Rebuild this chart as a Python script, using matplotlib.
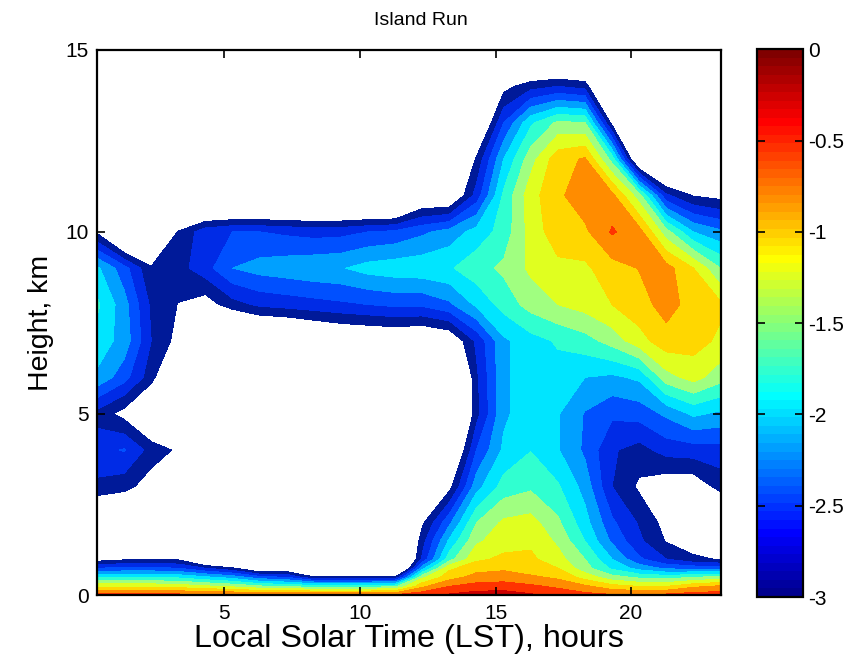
import numpy as np
import matplotlib
matplotlib.use("Agg")
import matplotlib.pyplot as plt
from matplotlib.cm import ScalarMappable
from matplotlib.colors import ListedColormap, Normalize

plt.rcParams["font.family"] = ["Liberation Sans", "DejaVu Sans"]
plt.rcParams["axes.unicode_minus"] = False

# grid: local solar time (h) and height (km)
hours = [0.3, 1.3, 2.3, 3.3, 4.3, 5.3, 6.3, 7.3, 8.3, 9.3, 10.3, 11.3,
         12.3, 13.3, 14.3, 15.3, 16.3, 17.3, 18.3, 19.3, 20.3, 21.3, 22.3, 23.3]
heights = [0, 0.25, 0.5, 0.75, 1, 1.5, 2, 3, 4, 5, 6, 7, 8, 9, 10, 11, 12, 13, 14, 15]

# log10 values per height level (one entry per hour)
z_000 = [-0.3, -0.32, -0.35, -0.38, -0.4, -0.4, -0.42, -0.42, -0.42, -0.42, -0.42, -0.4,
         -0.3, -0.2, -0.12, -0.1, -0.2, -0.3, -0.4, -0.45, -0.45, -0.4, -0.35, -0.35]
z_025 = [-1.05, -1.05, -1.05, -1.1, -1.2, -1.3, -1.45, -1.55, -1.6, -1.6, -1.6, -1.55,
         -0.8, -0.5, -0.4, -0.38, -0.45, -0.55, -0.7, -0.9, -1.0, -1.0, -0.8, -0.7]
z_050 = [-1.8, -1.78, -1.78, -1.8, -1.95, -2.1, -2.4, -2.5, -2.95, -2.95, -2.95, -2.95,
         -1.3, -0.85, -0.65, -0.62, -0.7, -0.8, -1.1, -1.4, -1.55, -1.6, -1.5, -1.4]
z_075 = [-2.5, -2.45, -2.45, -2.5, -2.75, -2.95, -3.4, -3.3, -4, -4, -4, -4,
         -2.1, -1.05, -0.85, -0.8, -0.9, -1.0, -1.4, -1.8, -2.1, -2.3, -2.35, -2.4]
z_100 = [-3.15, -3.05, -3.0, -3.05, -3.6, -4, -4, -4, -4, -4, -4, -4,
         -2.7, -1.6, -1.05, -0.95, -0.95, -1.15, -1.5, -2.0, -2.45, -2.75, -2.95, -3.02]
z_150 = [-4, -4, -4, -4, -4, -4, -4, -4, -4, -4, -4, -4,
         -2.85, -1.95, -1.3, -1.1, -1.05, -1.3, -1.75, -2.3, -2.7, -3.02, -3.15, -3.2]
z_200 = [-3.6, -3.6, -4, -4, -4, -4, -4, -4, -4, -4, -4, -4,
         -3.05, -2.3, -1.5, -1.2, -1.15, -1.45, -1.9, -2.45, -2.78, -3.1, -3.4, -3.6]
z_300 = [-2.8, -2.9, -3.15, -4, -4, -4, -4, -4, -4, -4, -4, -4,
         -4, -3.1, -2.1, -1.65, -1.55, -1.72, -2.1, -2.75, -3.05, -3.2, -3.2, -2.9]
z_400 = [-2.6, -2.48, -2.85, -3.05, -4, -4, -4, -4, -4, -4, -4, -4,
         -4, -3.6, -2.5, -1.95, -1.76, -1.98, -2.3, -2.72, -2.85, -2.65, -2.62, -2.6]
z_500 = [-2.85, -3.1, -3.5, -4, -4, -4, -4, -4, -4, -4, -4, -4,
         -4, -4, -2.85, -2.05, -1.85, -1.98, -2.27, -2.45, -2.4, -2.2, -1.95, -2.05]
z_600 = [-2.05, -2.4, -2.9, -3.6, -4, -4, -4, -4, -4, -4, -4, -4,
         -4, -4, -2.8, -2.05, -1.85, -1.85, -2.0, -2.05, -1.95, -1.35, -1.15, -1.4]
z_700 = [-1.85, -2.1, -2.75, -3.1, -4, -4, -3.73, -3.68, -3.53, -3.42, -3.38, -3.35,
         -3.41, -3.3, -2.7, -2.05, -1.85, -1.72, -1.6, -1.4, -1.1, -0.85, -0.9, -1.05]
z_800 = [-1.7, -2.15, -2.8, -3.01, -3.15, -2.85, -2.7, -2.65, -2.6, -2.55, -2.5, -2.45,
         -2.45, -2.3, -1.95, -1.65, -1.4, -1.25, -1.15, -1.0, -0.85, -0.65, -0.85, -0.95]
z_900 = [-1.95, -2.4, -2.97, -2.85, -2.6, -2.25, -2.15, -2.1, -2.05, -2.02, -1.9, -1.85,
         -1.83, -1.78, -1.6, -1.45, -1.2, -1.07, -1.05, -0.85, -0.74, -0.65, -1.0, -1.5]
z_1000 = [-3.05, -3.8, -3.6, -2.98, -2.6, -2.5, -2.5, -2.55, -2.6, -2.58, -2.5, -2.45,
          -2.3, -2.15, -1.9, -1.65, -1.15, -0.85, -0.8, -0.47, -0.65, -1.4, -2.0, -2.2]
z_1100 = [-4, -4, -4, -4, -4, -4, -4, -4, -4, -4, -4, -4,
          -3.4, -3.4, -2.65, -1.7, -1.1, -0.8, -0.6, -0.68, -1.4, -2.7, -3.02, -3.1]
z_1200 = [-4, -4, -4, -4, -4, -4, -4, -4, -4, -4, -4, -4,
          -4, -4, -2.95, -2.0, -1.35, -0.85, -0.72, -1.6, -3.6, -4, -4, -4]
z_1300 = [-4, -4, -4, -4, -4, -4, -4, -4, -4, -4, -4, -4,
          -4, -4, -3.6, -2.5, -1.8, -1.45, -1.5, -3.1, -4, -4, -4, -4]
z_1400 = [-4, -4, -4, -4, -4, -4, -4, -4, -4, -4, -4, -4,
          -4, -4, -4, -3.1, -2.85, -2.75, -2.85, -4, -4, -4, -4, -4]
z_1500 = [-4] * 24

levels = np.arange(-3.0, 0.001, 0.25)
cbar_ticks = [-3, -2.5, -2, -1.5, -1, -0.5, 0]
# band colours as they appear in the figure (lowest band first)
band_colors = ["#001a99", "#002be6", "#0050ff", "#00a0ff", "#00e5ff", "#30ffd0",
               "#a0ff80", "#e0ff20", "#ffd700", "#ff8c00", "#ff3300", "#cc0000"]


def matlab_jet(n=64):
    m = n // 4
    u = np.r_[np.arange(1, m + 1) / m, np.ones(m - 1), np.arange(m, 0, -1) / m]
    g = int(np.ceil(m / 2)) - int(n % 4 == 1) + np.arange(1, len(u) + 1)
    r, b = g + m, g - m
    J = np.zeros((n, 3))
    k = g <= n; J[g[k] - 1, 1] = u[:k.sum()]
    k = r <= n; J[r[k] - 1, 0] = u[:k.sum()]
    k = b >= 1; J[b[k] - 1, 2] = u[-k.sum():]
    return J


Z = np.array([z_000, z_025, z_050, z_075, z_100, z_150, z_200, z_300, z_400, z_500,
              z_600, z_700, z_800, z_900, z_1000, z_1100, z_1200, z_1300, z_1400, z_1500])

fig = plt.figure(figsize=(8.63, 6.61), dpi=100)
ax = fig.add_axes([0.1124, 0.0991, 0.7225, 0.8253])
ax.contourf(hours, heights, Z, levels=levels, colors=band_colors)
ax.set_xlim(hours[0], hours[-1])
ax.set_ylim(0, 15)
ax.set_xticks([5, 10, 15, 20])
ax.set_yticks([0, 5, 10, 15])
ax.tick_params(direction="in", top=True, right=True, length=6, width=1.2, labelsize=15, pad=6)
for s in ax.spines.values():
    s.set_linewidth(1.6)
ax.set_xlabel("Local Solar Time (LST), hours", fontsize=23.3, labelpad=1)
ax.set_ylabel("Height, km", fontsize=20.5, labelpad=8)
ax.set_title("Island Run", fontsize=14, pad=18, x=0.52)

cax = fig.add_axes([0.8772, 0.0968, 0.0533, 0.8286])
sm = ScalarMappable(norm=Normalize(-3, 0), cmap=ListedColormap(matlab_jet(64)))
cb = fig.colorbar(sm, cax=cax, ticks=cbar_ticks)
cb.ax.set_yticklabels(["-3", "-2.5", "-2", "-1.5", "-1", "-0.5", "0"])
cb.ax.tick_params(direction="in", left=True, right=True, length=6, width=1.2, labelsize=15)
cb.outline.set_linewidth(1.6)

fig.savefig("out.png", dpi=100)
